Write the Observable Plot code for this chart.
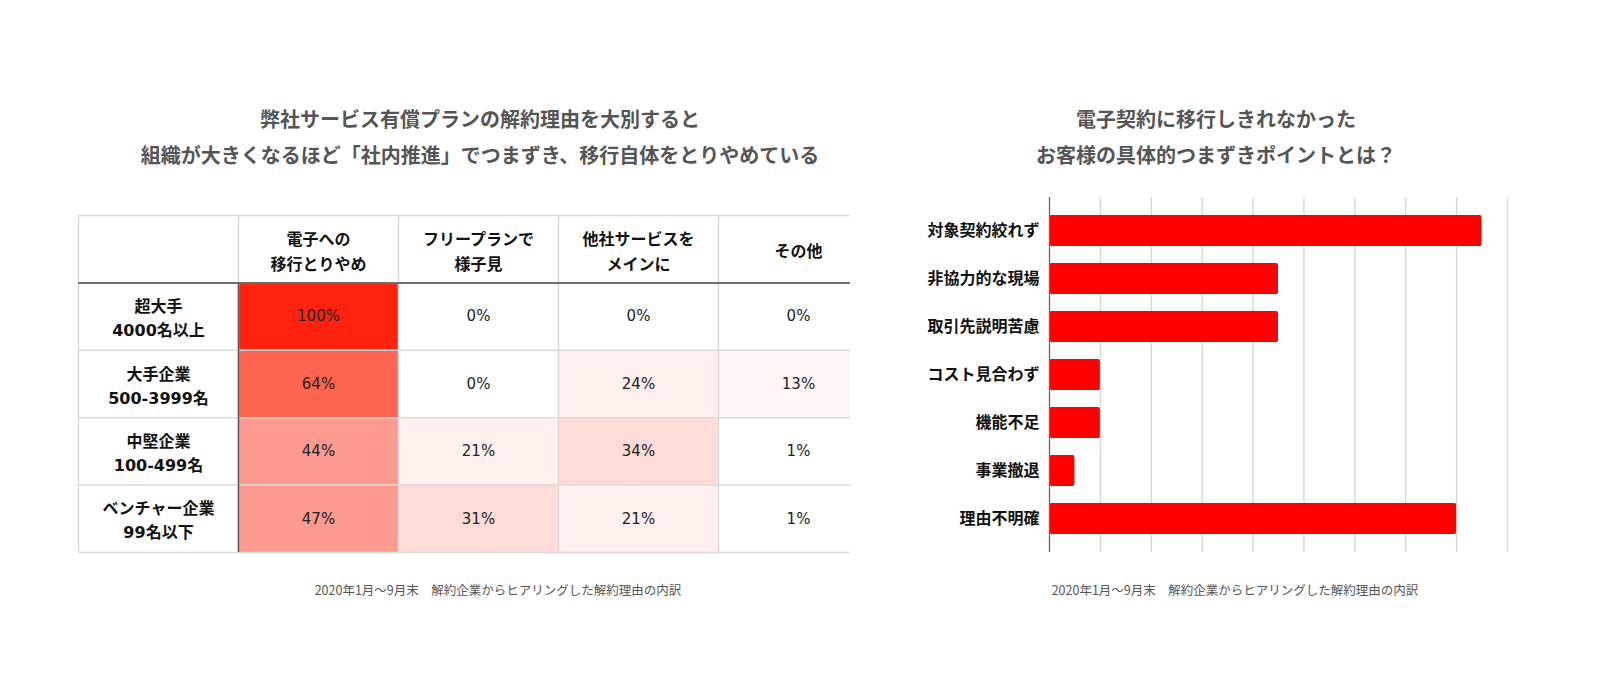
<!DOCTYPE html>
<html><head><meta charset="utf-8">
<script src="https://cdn.jsdelivr.net/npm/d3@7"></script>
<script src="https://cdn.jsdelivr.net/npm/@observablehq/plot@0.6"></script>
<style>
body{margin:0;background:#fff;font-family:"Noto Sans CJK JP","Noto Sans",sans-serif;}
#root{position:relative;width:1600px;height:700px;overflow:hidden;background:#fff;}
.title{position:absolute;text-align:center;font-size:20px;font-weight:bold;color:#555;line-height:36px;white-space:nowrap;}
.cap{position:absolute;text-align:center;font-size:12.5px;color:#555;white-space:nowrap;}
#left{position:absolute;left:0;top:205px;}
#right{position:absolute;left:880px;top:190px;}
</style></head>
<body><div id="root">
<div class="title" style="left:80px;width:800px;top:101px">弊社サービス有償プランの解約理由を大別すると<br>組織が大きくなるほど「社内推進」でつまずき、移行自体をとりやめている</div>
<div class="title" style="left:1016px;width:400px;top:101px">電子契約に移行しきれなかった<br>お客様の具体的つまずきポイントとは？</div>
<div id="left"></div>
<div id="right"></div>
<div class="cap" style="left:298px;width:400px;top:580px">2020年1月〜9月末　解約企業からヒアリングした解約理由の内訳</div>
<div class="cap" style="left:1035px;width:400px;top:580px">2020年1月〜9月末　解約企業からヒアリングした解約理由の内訳</div>
</div>
<script>
// ---- Left table data ----
const rowLabels = ["超大手\n4000名以上", "大手企業\n500-3999名", "中堅企業\n100-499名", "ベンチャー企業\n99名以下"];
const colLabels = ["電子への\n移行とりやめ", "フリープランで\n様子見", "他社サービスを\nメインに", "その他"];
const valQuit      = [100, 64, 44, 47];
const valFreePlan  = [0, 0, 21, 31];
const valOtherSvc  = [0, 24, 34, 21];
const valOthers    = [0, 13, 1, 1];

// ---- Right bar chart data ----
const reasons = ["対象契約絞れず", "非協力的な現場", "取引先説明苦慮", "コスト見合わず", "機能不足", "事業撤退", "理由不明確"];
const counts  = [17, 9, 9, 2, 2, 1, 16];
const gridTicks = [0, 2, 4, 6, 8, 10, 12, 14, 16, 18];

const FONT = '"Noto Sans CJK JP","Noto Sans",sans-serif';
const NUMFONT = '"DejaVu Sans","Noto Sans CJK JP",sans-serif';

const series = [valQuit, valFreePlan, valOtherSvc, valOthers];
const cells = [];
rowLabels.forEach((r, i) => series.forEach((vals, j) => cells.push({row: r, col: colLabels[j], ri: i + 1, ci: j + 1, v: vals[i]})));
const nCols = colLabels.length + 1, nRows = rowLabels.length + 1;

const leftPlot = Plot.plot({
  width: 850, height: 360,
  marginLeft: 78, marginRight: 0, marginTop: 10, marginBottom: 13,
  style: {overflow: "hidden", fontFamily: FONT, fontSize: "16px", background: "transparent"},
  x: {domain: [0, nCols], range: [78, 878], axis: null},
  y: {domain: [0, nRows], range: [10, 347], axis: null},
  color: {type: "threshold", domain: [5, 18, 28, 40, 55, 80],
          range: ["#ffffff", "#fff7f6", "#ffefed", "#ffdcd8", "#ff9a91", "#ff6450", "#ff230f"]},
  marks: [
    Plot.rect(cells, {x1: "ci", x2: d => d.ci + 1, y1: "ri", y2: d => d.ri + 1, fill: "v"}),
    Plot.ruleY(d3.range(0, nRows + 1), {stroke: "#d9d9d9", strokeWidth: 1.5}),
    Plot.ruleX(d3.range(0, nCols + 1), {y1: 0, y2: nRows, stroke: "#d9d9d9", strokeWidth: 1.5}),
    Plot.ruleY([1], {stroke: "#6e6e6e", strokeWidth: 2}),
    Plot.ruleX([1], {y1: 1, y2: nRows, stroke: "#555", strokeWidth: 1.5}),
    Plot.text(colLabels, {x: (d, i) => i + 1.5, y: 0.5, text: d => d, fontWeight: "bold", fontSize: 16, lineHeight: 1.6, fill: "#111"}),
    Plot.text(rowLabels, {x: 0.5, y: (d, i) => i + 1.5, text: d => d, fontFamily: NUMFONT, fontWeight: "bold", fontSize: 16, lineHeight: 1.5, fill: "#111"}),
    Plot.text(cells, {x: d => d.ci + 0.5, y: d => d.ri + 0.5, text: d => d.v + "%", fontFamily: NUMFONT, fontSize: 15, fill: "#222"})
  ]
});
document.getElementById("left").appendChild(leftPlot);

const bars = reasons.map((r, i) => ({reason: r, count: counts[i]}));
const rightPlot = Plot.plot({
  width: 720, height: 380,
  marginLeft: 169, marginRight: 93, marginTop: 7, marginBottom: 18,
  style: {fontFamily: FONT, fontSize: "16px", background: "transparent"},
  x: {domain: [0, 18], axis: null},
  y: {domain: reasons, paddingInner: 0.36, paddingOuter: 0.34, axis: null},
  marks: [
    Plot.gridX({ticks: gridTicks, stroke: "#d9d9d9", strokeOpacity: 1, strokeWidth: 1.5}),
    Plot.barX(bars, {x: "count", y: "reason", fill: "#ff0000", rx: 2}),
    Plot.ruleX([0], {stroke: "#666", strokeWidth: 1.2}),
    Plot.axisY({tickSize: 0, tickPadding: 10, fontSize: 16, fontWeight: "bold", color: "#111", label: null})
  ]
});
document.getElementById("right").appendChild(rightPlot);
</script>
</body></html>
